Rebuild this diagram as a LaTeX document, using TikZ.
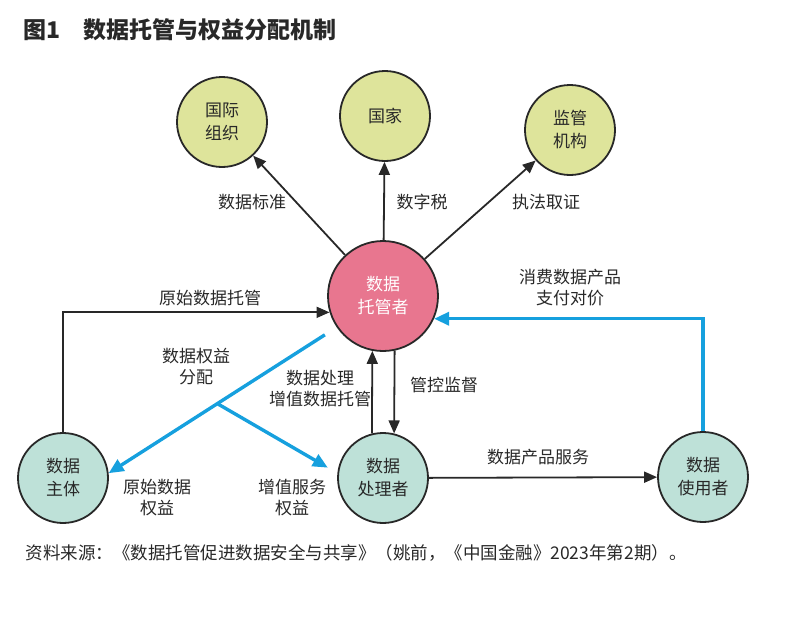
\documentclass[tikz,border=0pt]{standalone}
\usepackage{fontspec}
\setmainfont{Noto Sans CJK SC}
\usetikzlibrary{arrows.meta}
\definecolor{circyellow}{RGB}{222,228,155}
\definecolor{circteal}{RGB}{190,225,216}
\definecolor{circpink}{RGB}{232,118,143}
\definecolor{flowblue}{RGB}{22,160,222}
\definecolor{inkgray}{RGB}{40,40,40}
\tikzstyle{arrow} = [line width=1.8pt,inkgray,-{Triangle[length=13pt,width=11pt]}]
\tikzstyle{bluearrow} = [line width=3.4pt,flowblue,-{Triangle[length=15pt,width=13pt]}]
\tikzstyle{outer} = [circle,draw=inkgray,line width=1.8pt,fill=circyellow,minimum size=90pt,inner sep=0pt,align=center,text=inkgray,font=\fontsize{17}{23}\selectfont]
\tikzstyle{party} = [outer,fill=circteal]
\tikzstyle{hub} = [outer,fill=circpink,text=white,minimum size=110pt]
\tikzstyle{lbl} = [align=center,inner sep=0pt,text=inkgray,font=\fontsize{17}{21}\selectfont]

\begin{document}
\begin{tikzpicture}[x=1pt,y=-1pt]
\useasboundingbox (0,0) rectangle (800,634);

\node[anchor=west,text=inkgray,font=\fontsize{23}{23}\selectfont\bfseries] (title) at (20,30) {图1\quad 数据托管与权益分配机制};

\node[outer] (gj) at (222,122) {国际\\组织};
\node[outer] (gjia) at (385,116) {国家};
\node[outer] (jg) at (570,130) {监管\\机构};
\node[hub] (tg) at (383,296) {数据\\托管者};
\node[party] (zt) at (63,478) {数据\\主体};
\node[party] (cl) at (383,478) {数据\\处理者};
\node[party] (sy) at (703,477) {数据\\使用者};

\draw[arrow] (tg) -- (gj);
\draw[arrow] (tg) -- (gjia);
\draw[arrow] (tg) -- (jg);
\node[lbl] (l1) at (252,202) {数据标准};
\node[lbl] (l2) at (422,202) {数字税};
\node[lbl] (l3) at (546,202) {执法取证};

\draw[arrow] (zt.north) |- (tg.197);
\node[lbl] (l4) at (210,298) {原始数据托管};

\draw[bluearrow] (sy.north) |- (tg.-24);
\node[lbl] (l5) at (570,288) {消费数据产品\\支付对价};

\draw[arrow] (cl.104) -- (tg.-101.5);
\draw[arrow] (tg.-78.5) -- (cl.76);
\node[lbl] (l6) at (320,389) {数据处理\\增值数据托管};
\node[lbl] (l7) at (444,385) {管控监督};

\draw[arrow] (cl) -- (sy);
\node[lbl] (l8) at (538,457) {数据产品服务};

% rights distribution
\coordinate (fork) at (218,404);
\draw[bluearrow,shorten <=14pt] (tg.214) -- (zt.6);
\draw[bluearrow,shorten >=11pt] (fork) -- (cl.174);
\node[lbl] (l9) at (196,367) {数据权益\\分配};
\node[lbl] (l10) at (157,498) {原始数据\\权益};
\node[lbl] (l11) at (292,498) {增值服务\\权益};

\node[anchor=west,text=inkgray,font=\fontsize{17.5}{20}\selectfont] (src) at (22,553) {资料来源：《数据托管促进数据安全与共享》（姚前，《中国金融》2023年第2期）。};
\end{tikzpicture}
\end{document}
